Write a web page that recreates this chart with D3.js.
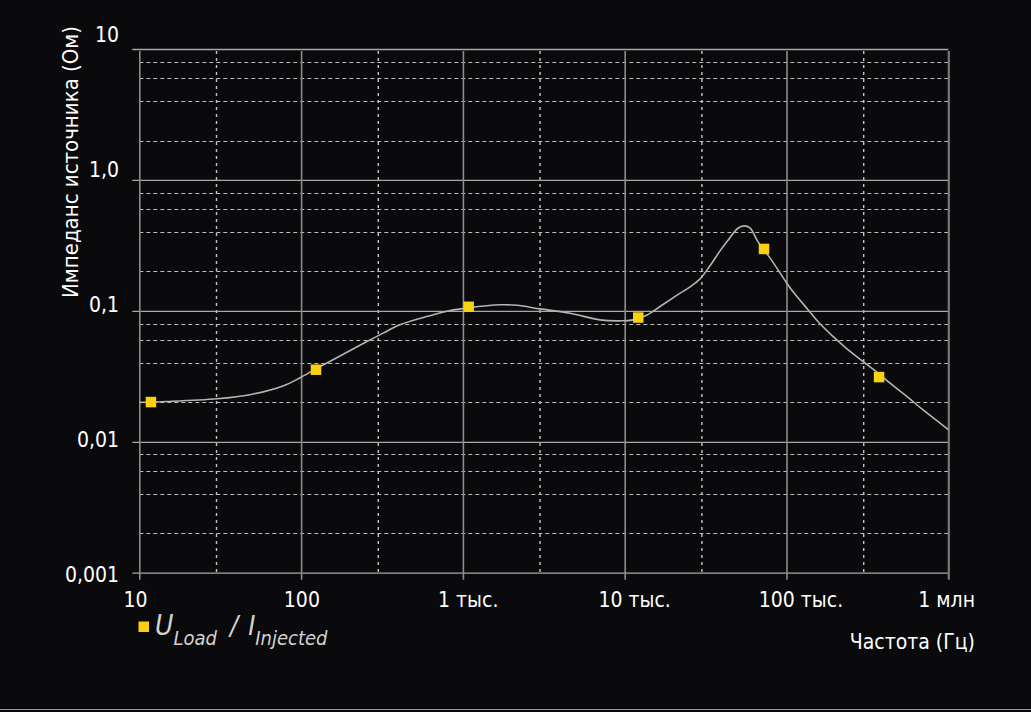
<!DOCTYPE html>
<html>
<head>
<meta charset="utf-8">
<script src="https://cdn.jsdelivr.net/npm/d3@7"></script>
<style>
  html, body { margin: 0; padding: 0; background: #0a0a0c; }
  svg { display: block; }
  text { font-family: "DejaVu Sans Condensed", "Liberation Sans Narrow", sans-serif; }
</style>
</head>
<body>
<svg id="chart" width="1031" height="712"></svg>
<script>
// ---- data ----
const curveFreq = [10, 14.8, 30.2, 48.3, 77.3, 98.5, 123.6, 157.4, 255, 321,
  408, 653, 832, 1074, 1694, 2158, 3000, 4590, 7030, 9350,
  11250, 13730, 16520, 19890, 21990, 25350, 29220, 33650, 38820, 42890, 50120, 54580,
  59430, 66560, 79020, 91150, 105100, 135900, 161100, 193700, 236500, 299200,
  373300, 436500, 556300, 698800, 1000000];
const curveImp = [0.0200, 0.0203, 0.0213, 0.0229, 0.0267, 0.0308, 0.0361, 0.0423, 0.0583, 0.0676,
  0.0782, 0.0931, 0.1005, 0.1054, 0.1112, 0.1102, 0.1035, 0.0960, 0.0853, 0.0839,
  0.0853, 0.0931, 0.1079, 0.1256, 0.1365, 0.1524, 0.1754, 0.2208, 0.287, 0.338, 0.4276, 0.4457,
  0.4305, 0.338, 0.254, 0.195, 0.150, 0.1019, 0.0796, 0.0638, 0.0513, 0.0408,
  0.0330, 0.0280, 0.0221, 0.0175, 0.0124];
const markerFreq = [11.8, 123.6, 1086, 12130, 72600, 373300];
const markerImp = [0.0201, 0.0355, 0.1074, 0.0889, 0.297, 0.0312];

const xTickValues = [10, 100, 1e3, 1e4, 1e5, 1e6];
const xTickLabels = ["10", "100", "1 тыс.", "10 тыс.", "100 тыс.", "1 млн"];
const xMinorValues = [30, 300, 3e3, 3e4, 3e5];
const yTickValues = [10, 1, 0.1, 0.01, 0.001];
const yTickLabels = ["10", "1,0", "0,1", "0,01", "0,001"];
const yMinorMult = [2, 4, 6, 8];

const yTitle = "Импеданс источника (Ом)";
const xTitle = "Частота (Гц)";

// ---- layout ----
const W = 1031, H = 712;
const L = 139.3, R = 948.3, T = 49, B = 572.7;
const svg = d3.select("#chart");
svg.append("rect").attr("width", W).attr("height", H).attr("fill", "#0a0a0c");

const x = d3.scaleLog().domain([10, 1e6]).range([L, R]);
const y = d3.scaleLog().domain([0.001, 10]).range([B, T]);
// label placement scales (labels in the source are spread slightly wider than the grid)
const yLab = d3.scaleLog().domain([10, 0.001]).range([34, 574]);
const xLab = d3.scaleLog().domain([10, 1e5]).range([135.5, 801]);

// minor horizontal dashed lines
const yMinor = [];
for (let d = 0.001; d < 10; d *= 10) yMinorMult.forEach(m => yMinor.push(+(d * m).toPrecision(3)));
svg.append("g").selectAll("line").data(yMinor).join("line")
  .attr("x1", L).attr("x2", R)
  .attr("y1", d => Math.round(y(d)) + 0.5).attr("y2", d => Math.round(y(d)) + 0.5)
  .attr("stroke", "#bdbdbd").attr("stroke-width", 1).attr("stroke-dasharray", "4,3");

// minor vertical dashed lines
svg.append("g").selectAll("line").data(xMinorValues).join("line")
  .attr("x1", d => x(d)).attr("x2", d => x(d))
  .attr("y1", T + 2).attr("y2", B)
  .attr("stroke", "#c4c4c4").attr("stroke-width", 1.4).attr("stroke-dasharray", "3,4");

// horizontal decade grid via axis
const gy = svg.append("g").attr("transform", `translate(${L - 7},0)`)
  .call(d3.axisLeft(y).tickValues(yTickValues).tickSize(-(R - L + 7)).tickFormat(""));
gy.select(".domain").remove();
gy.selectAll(".tick line").attr("stroke", "#a8a8a8").attr("stroke-width", 1.3);

// vertical decade grid via axis
const gx = svg.append("g").attr("transform", `translate(0,${B + 7})`)
  .call(d3.axisTop(x).tickValues(xTickValues).tickSize(B + 7 - T - 2).tickFormat(""));
gx.select(".domain").remove();
gx.selectAll(".tick line").attr("stroke", "#8c8c8c").attr("stroke-width", 1.6);
gx.selectAll(".tick").filter(d => d === 1e6).select("line").attr("stroke", "#7a7a7a").attr("stroke-width", 2.2);

// y tick labels
svg.append("g").selectAll("text").data(yTickValues).join("text")
  .attr("x", 119).attr("y", d => yLab(d)).attr("dy", "0.36em")
  .attr("text-anchor", "end").attr("fill", "#ffffff").attr("font-size", 21)
  .text((d, i) => yTickLabels[i]);

// x tick labels
const xl = svg.append("g").selectAll("text").data(xTickValues).join("text")
  .attr("x", d => xLab(d)).attr("y", 607)
  .attr("text-anchor", "middle").attr("fill", "#ffffff").attr("font-size", 21)
  .text((d, i) => xTickLabels[i]);
xl.each(function () {
  const w = this.getComputedTextLength();
  const cx = +this.getAttribute("x");
  if (cx + w / 2 > 975) this.setAttribute("x", 975 - w / 2);
});

// axis titles
svg.append("text").attr("transform", "translate(78,162) rotate(-90)")
  .attr("text-anchor", "middle").attr("fill", "#ffffff").attr("font-size", 22)
  .text(yTitle);
svg.append("text").attr("x", 975).attr("y", 649).attr("text-anchor", "end")
  .attr("fill", "#ffffff").attr("font-size", 21).text(xTitle);

// curve
const pts = curveFreq.map((f, i) => [f, curveImp[i]]);
const line = d3.line().x(d => x(d[0])).y(d => y(d[1])).curve(d3.curveCatmullRom.alpha(0.5));
svg.append("path").datum(pts).attr("d", line)
  .attr("fill", "none").attr("stroke", "#b4b4b4").attr("stroke-width", 1.6);

// markers
const ms = 10.5;
svg.append("g").selectAll("rect").data(markerFreq.map((f, i) => [f, markerImp[i]])).join("rect")
  .attr("x", d => x(d[0]) - ms / 2).attr("y", d => y(d[1]) - ms / 2)
  .attr("width", ms).attr("height", ms).attr("fill", "#f9d10f");

// legend
svg.append("rect").attr("x", 138.5).attr("y", 621.5).attr("width", 10.5).attr("height", 10.5).attr("fill", "#f9d10f");
const lg = svg.append("text").attr("x", 155).attr("y", 635).attr("fill", "#d2d2d2")
  .attr("font-style", "italic");
lg.append("tspan").attr("font-size", 28).text("U");
lg.append("tspan").attr("font-size", 20).attr("dy", 10).text("Load");
lg.append("tspan").attr("font-size", 27).attr("dy", -10).attr("dx", 13).text("/");
lg.append("tspan").attr("font-size", 27).attr("dx", 10).text("I");
lg.append("tspan").attr("font-size", 20).attr("dy", 10).text("Injected");

// bottom border
svg.append("line").attr("x1", 0).attr("x2", W).attr("y1", 709.5).attr("y2", 709.5)
  .attr("stroke", "#9a9a9a").attr("stroke-width", 1.2);
</script>
</body>
</html>
